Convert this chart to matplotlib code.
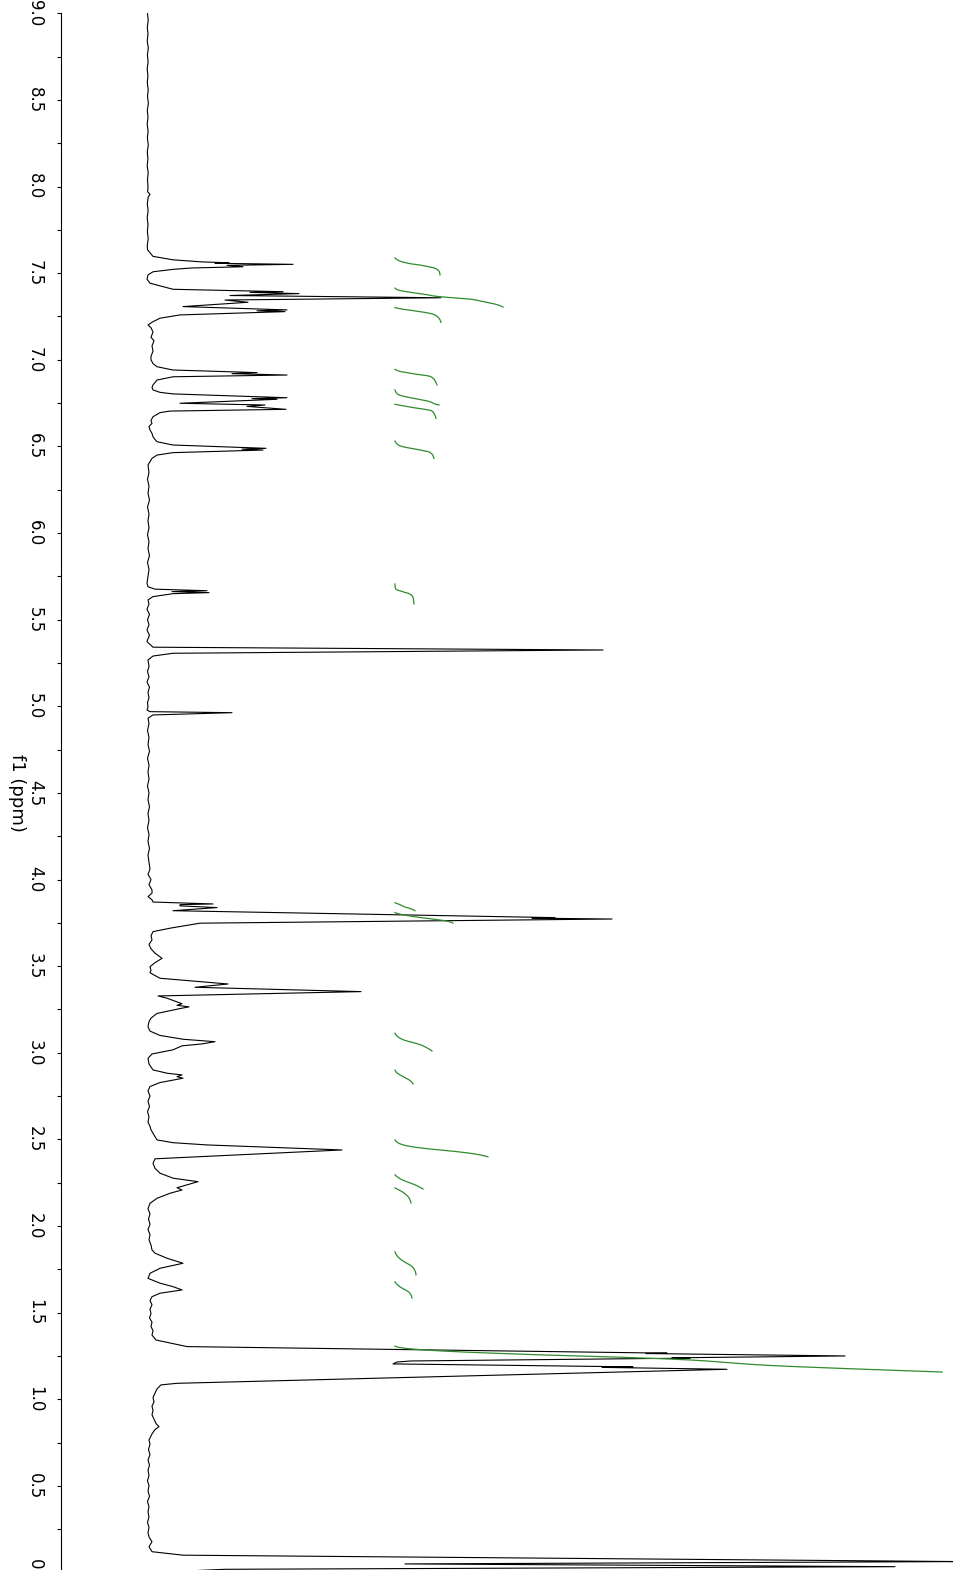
import numpy as np
import matplotlib.pyplot as plt

# 1H spectrum trace as (shift in ppm, intensity) pairs, downfield to upfield
downfield = [(9.00, 0.5), (8.96, 1.2), (8.92, 0.3), (8.88, 1.0), (8.84, 0.2), (8.80, 1.3),
             (8.76, 0.4), (8.72, 1.1), (8.68, 0.2), (8.64, 0.9), (8.60, 0.3), (8.56, 1.2),
             (8.52, 0.5), (8.48, 1.4), (8.44, 0.3), (8.40, 1.0), (8.36, 0.2), (8.32, 1.1),
             (8.28, 0.4), (8.24, 1.3), (8.20, 0.3), (8.16, 0.9), (8.12, 0.2), (8.08, 1.2),
             (8.04, 0.5), (8.00, 1.0), (7.97, 0.6), (7.955, 3.0), (7.94, 1.2), (7.90, 0.3),
             (7.86, 1.1), (7.82, 0.2), (7.78, 1.0), (7.74, 0.4), (7.70, 1.2), (7.66, 0.3)]

aromatic = [(7.635, 0.5), (7.597, 6), (7.577, 26), (7.565, 55), (7.560, 82), (7.557, 68),
            (7.551, 146), (7.545, 80), (7.537, 96), (7.530, 45), (7.522, 26), (7.508, 6),
            (7.490, 1), (7.465, 0), (7.442, 3),
            (7.407, 26), (7.393, 136), (7.389, 103), (7.382, 152), (7.371, 83), (7.358, 294),
            (7.345, 78), (7.332, 101), (7.307, 36), (7.288, 140), (7.283, 110), (7.278, 138),
            (7.259, 33), (7.240, 13), (7.220, 6), (7.201, 1),
            (7.185, 4), (7.16, 6), (7.13, 4), (7.11, 7), (7.08, 5), (7.05, 6), (7.02, 4),
            (7.00, 4), (6.978, 6), (6.960, 10),
            (6.941, 26), (6.926, 110), (6.920, 85), (6.912, 140), (6.902, 26), (6.883, 10),
            (6.855, 6), (6.840, 5), (6.826, 6), (6.812, 13), (6.803, 26),
            (6.781, 140), (6.776, 105), (6.772, 130), (6.749, 33), (6.739, 118), (6.731, 100),
            (6.714, 139), (6.704, 23), (6.695, 13), (6.671, 6), (6.650, 4), (6.633, 5),
            (6.615, 2), (6.595, 3), (6.575, 5), (6.556, 6), (6.540, 8), (6.527, 10), (6.508, 26),
            (6.489, 119), (6.484, 95), (6.479, 116), (6.464, 26), (6.450, 10), (6.431, 5),
            (6.393, 1)]

olefinic = [(6.35, 2), (6.31, 0.5), (6.27, 2), (6.23, 1), (6.19, 2.5), (6.15, 0.5), (6.11, 2),
            (6.07, 1), (6.03, 2), (5.99, 0.5), (5.95, 2), (5.91, 1), (5.87, 2.5), (5.83, 0.5),
            (5.79, 2), (5.75, 1), (5.710, 0), (5.690, 1), (5.676, 8), (5.667, 60), (5.662, 25),
            (5.656, 62), (5.650, 26), (5.633, 6), (5.614, 1),
            (5.59, 2), (5.56, 0), (5.53, 2.5), (5.50, 0.5), (5.47, 2), (5.44, 0), (5.41, 2.5),
            (5.39, 1), (5.373, 0), (5.341, 6), (5.325, 456), (5.306, 26), (5.290, 6), (5.267, 1),
            (5.23, 2), (5.20, 0.5), (5.17, 2), (5.14, 0), (5.11, 2.5), (5.08, 1), (5.05, 2),
            (5.02, 0.5), (4.995, 1), (4.979, 0), (4.969, 3), (4.963, 85), (4.950, 6), (4.931, 1)]

midfield = [(4.90, 2), (4.86, 0.5), (4.82, 2), (4.78, 1), (4.74, 2.5), (4.70, 0.5), (4.66, 2),
            (4.62, 1), (4.58, 2), (4.54, 0.5), (4.50, 2), (4.46, 1), (4.42, 2.5), (4.38, 1),
            (4.34, 2), (4.30, 0.5), (4.26, 2), (4.22, 1), (4.18, 2.5), (4.14, 1), (4.10, 2),
            (4.06, 3), (4.03, 1), (4.00, 4), (3.97, 2), (3.94, 5), (3.921, 5), (3.902, 1),
            (3.883, 5), (3.870, 6), (3.859, 66), (3.855, 33), (3.848, 33), (3.838, 70),
            (3.820, 26), (3.780, 408), (3.777, 385), (3.772, 465), (3.748, 53), (3.719, 23),
            (3.699, 6), (3.675, 4), (3.652, 5), (3.625, 2), (3.60, 4), (3.575, 8), (3.545, 15),
            (3.52, 8), (3.497, 3), (3.475, 4), (3.462, 3), (3.430, 13), (3.397, 81), (3.378, 48),
            (3.353, 214), (3.328, 11), (3.315, 20), (3.283, 35), (3.274, 30), (3.265, 42),
            (3.255, 33), (3.227, 10), (3.20, 4), (3.18, 2), (3.15, 1), (3.125, 3), (3.100, 13),
            (3.078, 36), (3.064, 68), (3.051, 55), (3.040, 35), (3.017, 26), (2.993, 5),
            (2.968, 1), (2.935, 2), (2.901, 6), (2.882, 20), (2.872, 35), (2.862, 30),
            (2.853, 36), (2.828, 13), (2.805, 3)]

aliphatic = [(2.78, 1), (2.75, 3), (2.72, 1), (2.69, 2.5), (2.66, 0.5), (2.63, 2), (2.60, 1),
             (2.575, 3), (2.555, 4), (2.535, 6), (2.516, 8), (2.497, 10), (2.481, 26),
             (2.468, 60), (2.439, 195), (2.388, 8), (2.362, 6), (2.333, 8), (2.305, 13),
             (2.276, 26), (2.256, 51), (2.221, 30), (2.208, 35), (2.189, 23), (2.160, 10),
             (2.131, 3), (2.10, 1), (2.07, 3), (2.04, 1.5), (2.01, 3), (1.98, 1), (1.95, 3),
             (1.92, 2), (1.89, 4), (1.862, 5), (1.843, 8), (1.814, 20), (1.785, 36), (1.756, 13),
             (1.727, 3), (1.698, 1), (1.670, 13), (1.650, 26), (1.631, 35), (1.612, 13),
             (1.592, 5), (1.57, 3), (1.545, 5), (1.52, 3), (1.495, 4), (1.47, 2.5), (1.445, 5),
             (1.42, 4), (1.395, 6), (1.37, 5), (1.342, 9),
             (1.304, 40), (1.266, 520), (1.264, 499), (1.250, 698), (1.239, 525), (1.237, 543),
             (1.235, 500), (1.221, 264), (1.215, 250), (1.204, 246), (1.187, 486), (1.184, 455),
             (1.173, 580), (1.092, 30), (1.083, 14)]

upfield = [(1.06, 10), (1.035, 8), (1.01, 6), (0.985, 7), (0.96, 5), (0.935, 6), (0.91, 5),
           (0.885, 7), (0.86, 9), (0.842, 12), (0.825, 8), (0.80, 5), (0.765, 2), (0.74, 3),
           (0.71, 1.5), (0.68, 3), (0.65, 1), (0.62, 2.5), (0.59, 1), (0.56, 2), (0.53, 0.5),
           (0.50, 2), (0.47, 1), (0.44, 2.5), (0.41, 0.5), (0.38, 2), (0.35, 1), (0.32, 2),
           (0.29, 0.5), (0.26, 2), (0.23, 1), (0.205, 2), (0.178, 5), (0.149, 2), (0.120, 5),
           (0.100, 36), (0.063, 815), (0.0495, 258), (0.0336, 748), (0.0185, 78), (0.005, 25),
           (-0.02, 8)]

# integration regions (ppm) and the length of each integral curve
integral_from = [7.588, 7.414, 7.301, 6.945, 6.826, 6.743, 6.531, 5.706, 3.866, 3.809,
                 3.113, 2.900, 2.497, 2.295, 2.220, 1.851, 1.678, 1.307]
integral_to = [7.490, 7.305, 7.216, 6.855, 6.739, 6.662, 6.431, 5.591, 3.820, 3.748,
               3.010, 2.820, 2.399, 2.214, 2.133, 1.718, 1.585, 1.157]
integral_len = [45, 108, 46, 42, 44, 41, 39, 19, 20, 58, 37, 18, 93, 28, 16, 21, 17, 547]
integral_base = 248

tick_ppm = np.arange(0, 9.01, 0.5)
tick_labels = ['%.1f' % t for t in tick_ppm]

trace = downfield + aromatic + olefinic + midfield + aliphatic + upfield
shift = np.array([p for p, _ in trace])
intensity = np.array([v for _, v in trace])

fig = plt.figure(figsize=(9.54, 15.70), dpi=100)
ax = fig.add_axes([61 / 954, -2.5 / 1570, 1 - 61 / 954, 1559.2 / 1570])

ax.plot(intensity, shift, color='black', lw=0.8)

# integral curves: running area under the trace across each region
for hi, lo, ln in zip(integral_from, integral_to, integral_len):
    grid = np.linspace(hi, lo, 400)
    vals = np.interp(grid, shift[::-1], intensity[::-1])
    area = np.concatenate([[0], np.cumsum((vals[1:] + vals[:-1]) / 2 * np.abs(np.diff(grid)))])
    ax.plot(integral_base + ln * area / area[-1], grid, color='#2e8b2e', lw=0.9)

# shift axis runs downward: 9 ppm at the top, 0 ppm at the bottom
ax.set_ylim(0.0, 9.0)
ax.set_xlim(-86, 807)
for side in ['top', 'right', 'bottom']:
    ax.spines[side].set_visible(False)
ax.spines['left'].set_linewidth(0.8)
ax.set_xticks([])
ax.set_yticks(tick_ppm)
ax.set_yticklabels(tick_labels, rotation=-90, va='center', fontsize=12)
ax.set_yticks(np.arange(0.25, 9.0, 0.5), minor=True)
ax.tick_params(axis='y', which='both', direction='out', length=3.2, width=0.8, pad=9)
ax.set_ylabel('f1 (ppm)', rotation=-90, fontsize=13, va='center', ha='center')
ax.yaxis.set_label_coords(-0.0493, 0.5)

fig.savefig('out.png', dpi=100)
